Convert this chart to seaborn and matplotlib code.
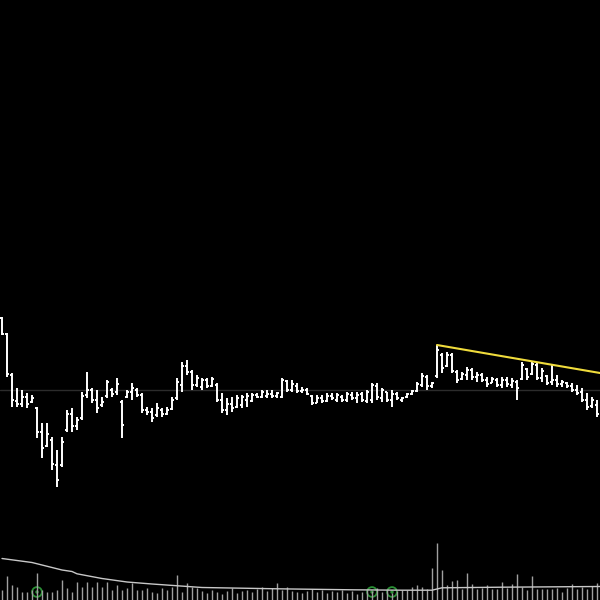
import numpy as np
import pandas as pd
import matplotlib
matplotlib.use("Agg")
import matplotlib.pyplot as plt
import seaborn as sns

# OHLC price bars (one bar per session)
high = [28.3, 26.7, 22.7, 21.2, 21.0, 20.7, 20.5, 19.3, 17.7, 17.7,
        16.3, 15.0, 16.3, 19.0, 19.2, 18.3, 20.8, 22.8, 21.2, 21.0,
        20.3, 22.0, 21.2, 22.2, 20.0, 21.0, 21.7, 21.2, 20.7, 19.3,
        19.2, 19.7, 19.2, 19.3, 20.3, 22.2, 23.8, 24.0, 23.0, 22.5,
        22.2, 22.2, 22.3, 21.7, 20.7, 20.2, 20.3, 20.5, 20.5, 20.7,
        20.7, 20.7, 21.0, 21.0, 21.0, 20.8, 22.2, 22.0, 22.0, 21.7,
        21.3, 21.2, 20.5, 20.5, 20.5, 20.7, 20.7, 20.7, 20.5, 20.8,
        20.8, 20.8, 20.8, 21.0, 21.7, 21.7, 21.2, 20.8, 21.0, 20.8,
        20.3, 20.7, 21.0, 21.8, 22.7, 22.5, 21.8, 25.5, 24.7, 24.8,
        24.7, 23.0, 22.8, 23.3, 23.2, 22.8, 22.7, 22.3, 22.3, 22.2,
        22.3, 22.3, 22.2, 22.0, 23.8, 23.2, 23.8, 23.7, 23.2, 22.5,
        23.5, 22.5, 22.0, 21.8, 21.7, 21.5, 21.2, 20.7, 20.3, 20.0]
low = [26.5, 22.3, 19.3, 19.3, 19.3, 19.2, 19.7, 16.2, 14.2, 15.3,
       13.0, 11.3, 13.3, 16.8, 16.8, 17.0, 18.0, 20.2, 19.7, 18.7,
       19.3, 20.2, 20.3, 20.5, 16.2, 20.2, 20.0, 20.3, 18.7, 18.5,
       17.8, 18.3, 18.3, 18.5, 19.0, 20.0, 20.8, 22.5, 21.0, 21.3,
       21.0, 21.2, 21.3, 19.8, 18.7, 18.5, 18.8, 19.2, 19.2, 19.3,
       19.8, 20.2, 20.2, 20.2, 20.2, 20.2, 20.2, 20.8, 20.8, 20.7,
       20.7, 20.5, 19.5, 19.7, 19.7, 19.8, 20.0, 19.8, 19.8, 19.8,
       20.0, 19.7, 19.8, 19.7, 19.7, 20.0, 19.8, 19.8, 19.3, 20.0,
       19.8, 20.2, 20.5, 20.8, 21.3, 21.0, 21.2, 22.2, 22.7, 23.3,
       22.7, 21.7, 22.0, 22.0, 22.0, 21.8, 21.8, 21.3, 21.7, 21.3,
       21.2, 21.3, 21.2, 20.0, 22.0, 22.0, 22.5, 22.0, 21.8, 21.5,
       21.5, 21.3, 21.3, 21.2, 20.8, 20.5, 19.8, 19.0, 19.2, 18.3]
opens = [28.2, 26.6, 22.5, 19.9, 19.6, 20.3, 19.8, 19.2, 16.8, 15.4,
         16.0, 13.5, 13.5, 17.0, 18.6, 17.4, 18.2, 20.5, 21.0, 20.0,
         19.5, 20.4, 21.0, 20.8, 19.8, 20.3, 20.8, 21.0, 20.5, 19.0,
         18.8, 18.5, 19.0, 18.6, 19.1, 20.2, 21.5, 23.4, 22.8, 21.5,
         21.3, 22.0, 21.4, 21.5, 20.0, 19.0, 19.6, 19.3, 19.5, 20.0,
         19.9, 20.5, 20.3, 20.4, 20.6, 20.4, 20.3, 21.9, 21.0, 21.4,
         20.9, 21.0, 20.4, 19.7, 20.2, 19.9, 20.4, 20.0, 20.3, 20.0,
         20.5, 20.2, 20.6, 19.9, 20.0, 21.4, 20.2, 20.8, 20.0, 20.6,
         20.0, 20.3, 20.6, 20.9, 21.5, 22.3, 21.4, 22.4, 24.5, 23.4,
         24.5, 22.8, 22.1, 22.5, 23.0, 22.3, 22.5, 22.0, 21.7, 22.0,
         21.5, 22.0, 21.5, 21.8, 22.1, 23.1, 22.6, 23.5, 22.2, 22.4,
         21.8, 22.0, 21.6, 21.7, 21.4, 21.0, 20.8, 20.0, 19.4, 19.5]
closes = [26.6, 22.6, 20.0, 19.6, 20.3, 19.6, 20.2, 16.8, 15.2, 16.6,
          13.6, 12.0, 15.8, 18.6, 17.4, 18.0, 20.4, 21.0, 20.0, 19.2,
          19.8, 21.8, 20.6, 21.6, 17.5, 20.8, 21.2, 20.5, 19.0, 18.8,
          18.2, 19.2, 18.6, 19.0, 20.0, 21.8, 23.4, 22.8, 21.5, 22.2,
          22.0, 21.4, 22.1, 20.0, 19.0, 19.6, 19.2, 20.2, 20.3, 20.4,
          20.5, 20.3, 20.8, 20.6, 20.4, 20.7, 22.0, 21.0, 21.6, 20.9,
          21.0, 20.6, 19.7, 20.2, 19.9, 20.4, 20.2, 20.5, 20.0, 20.6,
          20.2, 20.5, 20.0, 20.8, 21.5, 20.3, 21.0, 20.0, 20.6, 20.2,
          20.2, 20.6, 20.9, 21.6, 22.4, 21.4, 21.7, 25.0, 23.2, 24.5,
          22.9, 22.0, 22.6, 23.0, 22.3, 22.5, 22.0, 21.6, 22.1, 21.5,
          22.0, 21.6, 21.9, 21.2, 23.5, 22.3, 23.6, 22.2, 22.9, 21.7,
          22.0, 21.6, 21.8, 21.4, 21.0, 20.7, 20.0, 19.3, 20.0, 18.6]

# volume (thousands)
volume = [100, 240, 150, 130, 80, 80, 100, 270, 100, 80,
          80, 100, 200, 120, 80, 180, 130, 180, 130, 180,
          130, 180, 100, 150, 100, 120, 170, 100, 100, 120,
          80, 70, 120, 100, 130, 250, 80, 170, 130, 120,
          90, 70, 100, 80, 60, 90, 120, 70, 90, 100,
          80, 110, 130, 90, 120, 170, 100, 130, 90, 80,
          70, 90, 110, 80, 100, 70, 90, 80, 100, 70,
          90, 60, 80, 100, 90, 120, 80, 100, 70, 90,
          100, 100, 130, 150, 130, 110, 320, 570, 300, 150,
          190, 200, 110, 270, 160, 110, 120, 150, 110, 110,
          180, 120, 160, 260, 130, 100, 240, 110, 110, 110,
          110, 120, 80, 120, 160, 110, 130, 110, 140, 170]

# volume moving average
ma_idx = [0, 6, 12, 14, 15, 20, 25, 30, 40, 55, 70, 80, 86, 88, 100, 119.6]
ma_val = [415, 375, 300, 285, 262, 215, 180, 160, 125, 112, 102, 98, 98, 122, 128, 135]

# resistance trendline and reference level
trend_idx = [87, 119.6]
trend_val = [25.5, 22.7]
ref_level = 21.0

# signal markers
signal_idx = [7, 74, 78]
signal_vol = [80, 80, 80]

sns.set_style("dark", {"axes.facecolor": "black", "figure.facecolor": "black"})

n = len(high)
idx = np.arange(n)

fig = plt.figure(figsize=(6, 6), dpi=100, facecolor="black")
ax = fig.add_axes([0, 0, 1, 1])
ax.set_facecolor("black")
ax2 = ax.twinx()
ax2.set_facecolor("none")

# volume
ax2.vlines(idx, 0, volume, color="#a0a0a0", linewidth=1)
ma_df = pd.DataFrame({"bar": ma_idx, "ma": ma_val})
sns.lineplot(data=ma_df, x="bar", y="ma", ax=ax2, color="#c8c8c8", linewidth=1)
sig_df = pd.DataFrame({"bar": signal_idx, "v": signal_vol})
sns.scatterplot(data=sig_df, x="bar", y="v", ax=ax2, s=50, marker="o",
                facecolor="none", edgecolor="#2a8f35", linewidth=1.3)
sns.scatterplot(data=sig_df, x="bar", y="v", ax=ax2, s=6, marker="o",
                color="#2a8f35", edgecolor="none")

# price
ax.axhline(ref_level, color="#2c2c2c", linewidth=1)
ax.vlines(idx, low, high, color="white", linewidth=1.4)
ax.hlines(opens, idx - 0.4, idx, color="white", linewidth=1.4)
ax.hlines(closes, idx, idx + 0.4, color="white", linewidth=1.4)
tr_df = pd.DataFrame({"bar": trend_idx, "p": trend_val})
sns.lineplot(data=tr_df, x="bar", y="p", ax=ax, color="#f0dc3c", linewidth=1.5)

for a, lim in ((ax, (0, 60)), (ax2, (0, 6000))):
    a.set_xlim(-0.4, 119.6)
    a.set_ylim(*lim)
    a.set_xlabel("")
    a.set_ylabel("")
    a.set_xticks([])
    a.set_yticks([])
    for s in a.spines.values():
        s.set_visible(False)
    a.grid(False)

ax.set_zorder(ax2.get_zorder() + 1)
ax.patch.set_visible(False)

fig.savefig("out.png", dpi=100, facecolor="black")
